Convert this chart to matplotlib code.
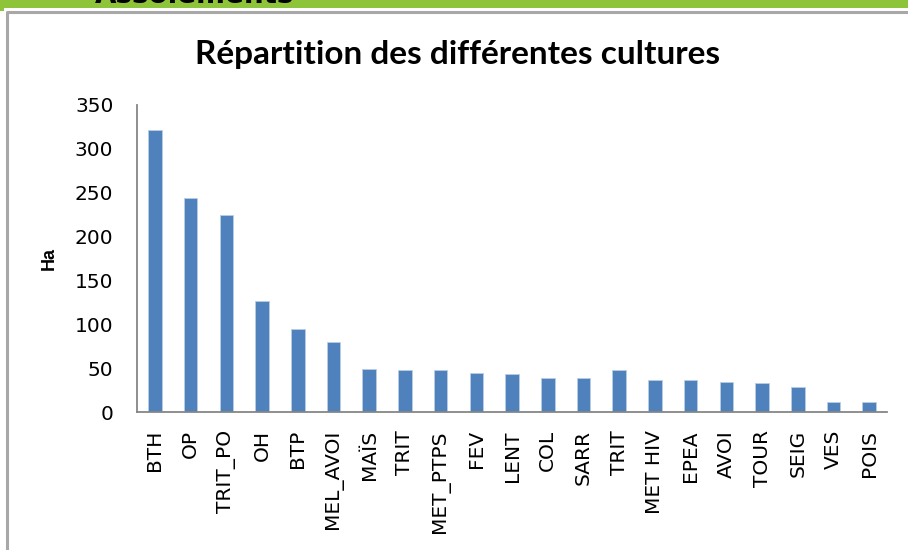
import matplotlib
matplotlib.use("Agg")
import matplotlib.pyplot as plt
from matplotlib.patches import Rectangle
from matplotlib.lines import Line2D

# Data (surface in Ha per crop)
cultures = ["BTH", "OP", "TRIT_PO", "OH", "BTP", "MEL_AVOI", "MAÏS", "TRIT",
            "MET_PTPS", "FEV", "LENT", "COL", "SARR", "TRIT", "MET HIV",
            "EPEA", "AVOI", "TOUR", "SEIG", "VES", "POIS"]
surfaces = [322, 244, 225, 127, 95, 80, 49.5, 47.5, 47.5, 45, 43, 39, 39,
            47.5, 37, 37, 34.5, 32.5, 28, 11, 11]
y_ticks = [0, 50, 100, 150, 200, 250, 300, 350]

W, H = 908, 550
fig = plt.figure(figsize=(W / 100, H / 100), dpi=100)
fig.patch.set_facecolor("white")

# green header strip + grey frame of the slide
fig.patches.append(Rectangle((0, 1 - 8 / H), 1, 8 / H, transform=fig.transFigure,
                             facecolor="#8DC43A", edgecolor="none", zorder=0))
fig.patches.append(Rectangle((0, 1 - 11 / H), 4 / W, 11 / H, transform=fig.transFigure,
                             facecolor="#8DC43A", edgecolor="none", zorder=0))
fig.lines.append(Line2D([7 / W, 7 / W, 1], [0, 1 - 11.5 / H, 1 - 11.5 / H],
                        transform=fig.transFigure, color="#A8A8A8", lw=2.2))
# header title of the slide, cut by the top edge as in the original
fig.text(95 / W, 1 - 3 / H, "Assolements", fontsize=20, fontweight="bold",
         family="DejaVu Sans", va="baseline", ha="left", color="black")

ax = fig.add_axes([137 / W, 1 - 412 / H, 750 / W, 307 / H])
x = range(len(cultures))
ax.bar(x, surfaces, width=0.38, color="#4F81BD", edgecolor="#B9CDE5",
       linewidth=0.6)

ax.set_xlim(-0.5, len(cultures) - 0.5)
ax.set_ylim(0, 350)
ax.set_yticks(y_ticks)
ax.set_xticks(list(x))
ax.set_xticklabels(cultures, rotation=90, va="top", ha="center")
for s in ["top", "right"]:
    ax.spines[s].set_visible(False)
for s in ["left", "bottom"]:
    ax.spines[s].set_color("#868686")
    ax.spines[s].set_linewidth(1.3)
ax.tick_params(axis="y", length=0, pad=17, labelsize=14.5)
ax.tick_params(axis="x", length=0, pad=13, labelsize=14.5)
for lab in ax.get_xticklabels() + ax.get_yticklabels():
    lab.set_family("DejaVu Sans")

ax.set_ylabel("Ha", fontsize=13, fontweight="bold", family="Liberation Sans",
              labelpad=12)

fig.text(458 / W, 1 - 64 / H, "Répartition des différentes cultures",
         fontsize=24, fontweight="bold", family="Lato", ha="center",
         va="baseline")

fig.savefig("out.png", dpi=100)
